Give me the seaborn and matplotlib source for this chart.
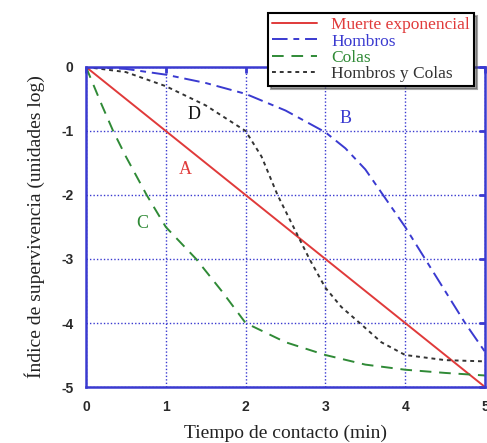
import numpy as np
import pandas as pd
import matplotlib
matplotlib.use("Agg")
import matplotlib.pyplot as plt
import seaborn as sns

# Survival curves (log units) vs contact time (min)
t_exp = [0, 1, 2, 3, 4, 5]
y_exp = [0, -1, -2, -3, -4, -5]

t_hom = [0, 0.5, 1, 1.5, 2, 2.5, 3, 3.25, 3.5, 3.75, 4, 4.25, 4.5, 4.75, 5]
y_hom = [0, -0.03, -0.12, -0.25, -0.42, -0.68, -1.02, -1.27, -1.6, -2.05, -2.5, -3.0, -3.5, -4.0, -4.45]

t_col = [0, 0.1, 0.2, 0.34, 0.5, 0.76, 1.0, 1.38, 1.7, 2.0, 2.5, 3.0, 3.5, 4.0, 4.5, 5.0]
y_col = [0, -0.3, -0.6, -1.0, -1.4, -2.0, -2.5, -3.0, -3.5, -4.0, -4.3, -4.5, -4.65, -4.73, -4.78, -4.82]

t_hyc = [0, 0.5, 1, 1.5, 1.75, 2, 2.2, 2.4, 2.6, 2.8, 3.0, 3.2, 3.43, 3.7, 4.0, 4.5, 5.0]
y_hyc = [0, -0.08, -0.3, -0.6, -0.8, -1.0, -1.4, -2.0, -2.5, -3.0, -3.45, -3.75, -4.0, -4.3, -4.5, -4.58, -4.6]

names = ["Muerte exponencial", "Hombros", "Colas", "Hombros y Colas"]
colors = ["#e03a3a", "#3a3ad0", "#2f8a36", "#333333"]
styles = ["-", (0, (8, 3, 3, 3)), (0, (6, 4)), (0, (2, 2))]

frames = []
for name, t, y in zip(names, [t_exp, t_hom, t_col, t_hyc], [y_exp, y_hom, y_col, y_hyc]):
    frames.append(pd.DataFrame({"t": t, "y": y, "curva": name}))
df = pd.concat(frames, ignore_index=True)

sns.set_style("white")
plt.rcParams["font.family"] = ["Liberation Serif", "DejaVu Serif"]

fig = plt.figure(figsize=(4.87, 4.43), dpi=100)
ax = fig.add_axes([0.1766, 0.1264, 0.8193, 0.7224])

frame_blue = "#3a3ad0"
ax.grid(True, color=frame_blue, linestyle=(0, (1, 1.5)), linewidth=1.0)
ax.set_axisbelow(True)

for name, c, ls in zip(names, colors, styles):
    sub = df[df["curva"] == name]
    sns.lineplot(data=sub, x="t", y="y", ax=ax, color=c, linestyle=ls,
                 linewidth=1.4, label=name, sort=False, estimator=None)

ax.set_xlim(0, 5)
ax.set_ylim(-5, 0)
ax.set_xticks([0, 1, 2, 3, 4, 5])
ax.set_yticks([0, -1, -2, -3, -4, -5])
ax.set_xticklabels(["0", "1", "2", "3", "4", "5"])
ax.set_yticklabels(["0", "-1", "-2", "-3", "-4", "-5"])
for lab in ax.get_xticklabels() + ax.get_yticklabels():
    lab.set_family("Liberation Sans")
    lab.set_fontweight("bold")
    lab.set_fontsize(10)
    lab.set_color("#2a2a2a")
ax.tick_params(axis="both", direction="in", length=4, width=2, color=frame_blue,
               top=True, right=True, pad=9)
for sp in ax.spines.values():
    sp.set_color(frame_blue)
    sp.set_linewidth(1.8)

ax.set_xlabel("Tiempo de contacto (min)", fontsize=14, color="#222222", labelpad=8)
ax.set_ylabel("Índice de supervivencia (unidades log)", fontsize=14, color="#222222", labelpad=12)

# Curve tags
ax.text(1.35, -0.75, "D", color="#111111", fontsize=13, ha="center", va="center")
ax.text(3.25, -0.8, "B", color=frame_blue, fontsize=13, ha="center", va="center")
ax.text(1.25, -1.6, "A", color=colors[0], fontsize=13, ha="center", va="center")
ax.text(0.7, -2.45, "C", color=colors[2], fontsize=13, ha="center", va="center")

leg = ax.legend(loc="upper left", bbox_to_anchor=(0.456, 1.169), fontsize=12.5,
                frameon=True, fancybox=False, shadow=True, borderpad=0.25,
                labelspacing=0.0, handlelength=2.6, handletextpad=0.8,
                borderaxespad=0)
leg.get_frame().set_edgecolor("black")
leg.get_frame().set_linewidth(1.5)
for txt, c in zip(leg.get_texts(), colors):
    txt.set_color(c)
leg.set_clip_on(False)

fig.savefig("out.png", dpi=100)
